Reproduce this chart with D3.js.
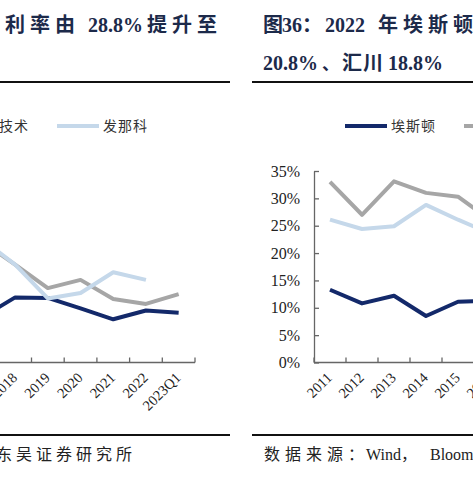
<!DOCTYPE html>
<html><head><meta charset="utf-8">
<script src="https://cdn.jsdelivr.net/npm/d3@7"></script>
<style>body{margin:0;background:#fff}svg{display:block}</style>
</head><body><svg id="c" width="473" height="477"></svg>
<script>
// ---- data ----
const seriesNames = ["埃斯顿", "汇川技术", "发那科"];
const leftCategories = ["2017", "2018", "2019", "2020", "2021", "2022", "2023Q1"];
const leftEston    = [8.3, 11.9, 11.8, 9.9, 7.9, 9.5, 9.1];
const leftHuichuan = [22.0, 17.9, 13.6, 15.1, 11.6, 10.7, 12.5];
const leftFanuc    = [22.5, 17.9, 11.7, 12.7, 16.5, 15.1, null];
const rightCategories = ["2011", "2012", "2013", "2014", "2015", "2016"];
const rightEston    = [13.3, 10.8, 12.2, 8.5, 11.1, 11.3];
const rightHuichuan = [33.0, 27.0, 33.1, 31.0, 30.3, 26.1];
const rightFanuc    = [26.1, 24.4, 24.9, 28.8, 26.1, 23.6];
const yTicks = [0, 5, 10, 15, 20, 25, 30, 35];

const colors = ["#13296a", "#a6a6a6", "#c5d8ea"];
const FONT = "'Liberation Serif','Noto Sans CJK SC',serif";
const CJK = "'Noto Sans CJK SC','Liberation Serif',sans-serif";
const svg = d3.select("#c");
svg.append("rect").attr("width", 473).attr("height", 477).attr("fill", "#fff");

const y = d3.scaleLinear().domain([0, 35]).range([362.5, 171]);
const AX = "#666";

function drawChart(cats, data, x0, x1, showYLabels) {
  const x = d3.scaleBand().domain(cats).range([x0, x1]).padding(0);
  const bw = x.bandwidth();
  const g = svg.append("g");
  // y axis
  const ya = g.append("g").attr("transform", `translate(${x0},0)`)
    .call(d3.axisLeft(y).tickValues(yTicks).tickSizeInner(-5).tickSizeOuter(0)
      .tickPadding(14).tickFormat(d => showYLabels ? d + "%" : ""));
  ya.select(".domain").attr("stroke", AX).attr("stroke-width", 1.3);
  ya.selectAll(".tick line").attr("stroke", AX).attr("stroke-width", 1.3);
  ya.selectAll(".tick text").attr("font-family", FONT).attr("font-size", 16).attr("fill", "#222");
  if (!showYLabels) ya.selectAll(".tick text").remove();
  // x axis
  g.append("line").attr("x1", x0).attr("x2", x1).attr("y1", y(0)).attr("y2", y(0))
    .attr("stroke", AX).attr("stroke-width", 1.3);
  const bounds = cats.map(c => x(c)).concat([x(cats[cats.length - 1]) + bw]);
  g.selectAll(".xt").data(bounds).join("line")
    .attr("x1", d => d).attr("x2", d => d).attr("y1", y(0)).attr("y2", y(0) - 5)
    .attr("stroke", AX).attr("stroke-width", 1.3);
  g.selectAll(".xl").data(cats.filter(c => x(c) + bw / 2 > -10)).join("text")
    .attr("transform", d => `translate(${x(d) + bw / 2 + 3},${y(0) + 16}) rotate(-45)`)
    .attr("text-anchor", "end").attr("font-family", FONT).attr("font-size", 14.5)
    .attr("fill", "#222").text(d => d);
  // lines
  const line = d3.line().defined(d => d != null)
    .x((d, i) => x(cats[i]) + bw / 2).y(d => y(d));
  data.forEach((s, k) => {
    g.append("path").attr("d", line(s)).attr("fill", "none")
      .attr("stroke", colors[k]).attr("stroke-width", 4).attr("stroke-linejoin", "round");
  });
}

drawChart(leftCategories, [leftEston, leftHuichuan, leftFanuc], -33.9, 195, false);
drawChart(rightCategories, [rightEston, rightHuichuan, rightFanuc], 314, 506, true);

// legends
function legend(startX, yy) {
  let xx = startX;
  seriesNames.forEach((n, k) => {
    svg.append("line").attr("x1", xx).attr("x2", xx + 42).attr("y1", yy).attr("y2", yy)
      .attr("stroke", colors[k]).attr("stroke-width", 4);
    svg.append("text").attr("x", xx + 46).attr("y", yy + 5).attr("font-family", CJK)
      .attr("font-size", 14).attr("letter-spacing", 1).attr("fill", "#333").text(n);
    xx += 46 + n.length * 15 + 28;
  });
}
legend(-196, 126);
legend(345, 126);

// rules
[[0, 230], [252, 473]].forEach(([a, b]) => {
  [82, 435].forEach(yy => svg.append("line").attr("x1", a).attr("x2", b)
    .attr("y1", yy).attr("y2", yy).attr("stroke", "#111").attr("stroke-width", 2));
});

// titles
const TC = "#1c2a4a";
function seg(x, yy, s, ls, size, weight, color) {
  svg.append("text").attr("x", x).attr("y", yy).attr("font-family", FONT)
    .attr("font-size", size).attr("font-weight", weight).attr("letter-spacing", ls)
    .attr("fill", color).text(s);
}
// left title (visible part)
seg(5, 32, "利率由", 5, 20, "bold", TC);
seg(88, 32, "28.8%", 0, 20, "bold", TC);
seg(147, 32, "提升至", 5, 20, "bold", TC);
// right title
seg(263, 32, "图", 0, 20, "bold", TC);
seg(282, 32, "36：", 0, 20, "bold", TC);
seg(325, 32, "2022", 0, 20, "bold", TC);
seg(378, 32, "年埃斯顿净利率", 5, 20, "bold", TC);
seg(263, 70, "20.8%", 0, 20, "bold", TC);
seg(322, 70, "、", 0, 17, "bold", TC);
seg(342, 70, "汇川", 1, 20, "bold", TC);
seg(388, 70, "18.8%", 0, 20, "bold", TC);

// sources
seg(-4, 460, "东吴证券研究所", 4, 16, "normal", "#222");
seg(264, 460, "数据来源：", 5, 16, "normal", "#222");
seg(366, 460, "Wind，", 0, 16, "normal", "#222");
seg(430, 460, "Bloomberg，东吴证券研究所", 0, 16, "normal", "#222");
</script></body></html>
